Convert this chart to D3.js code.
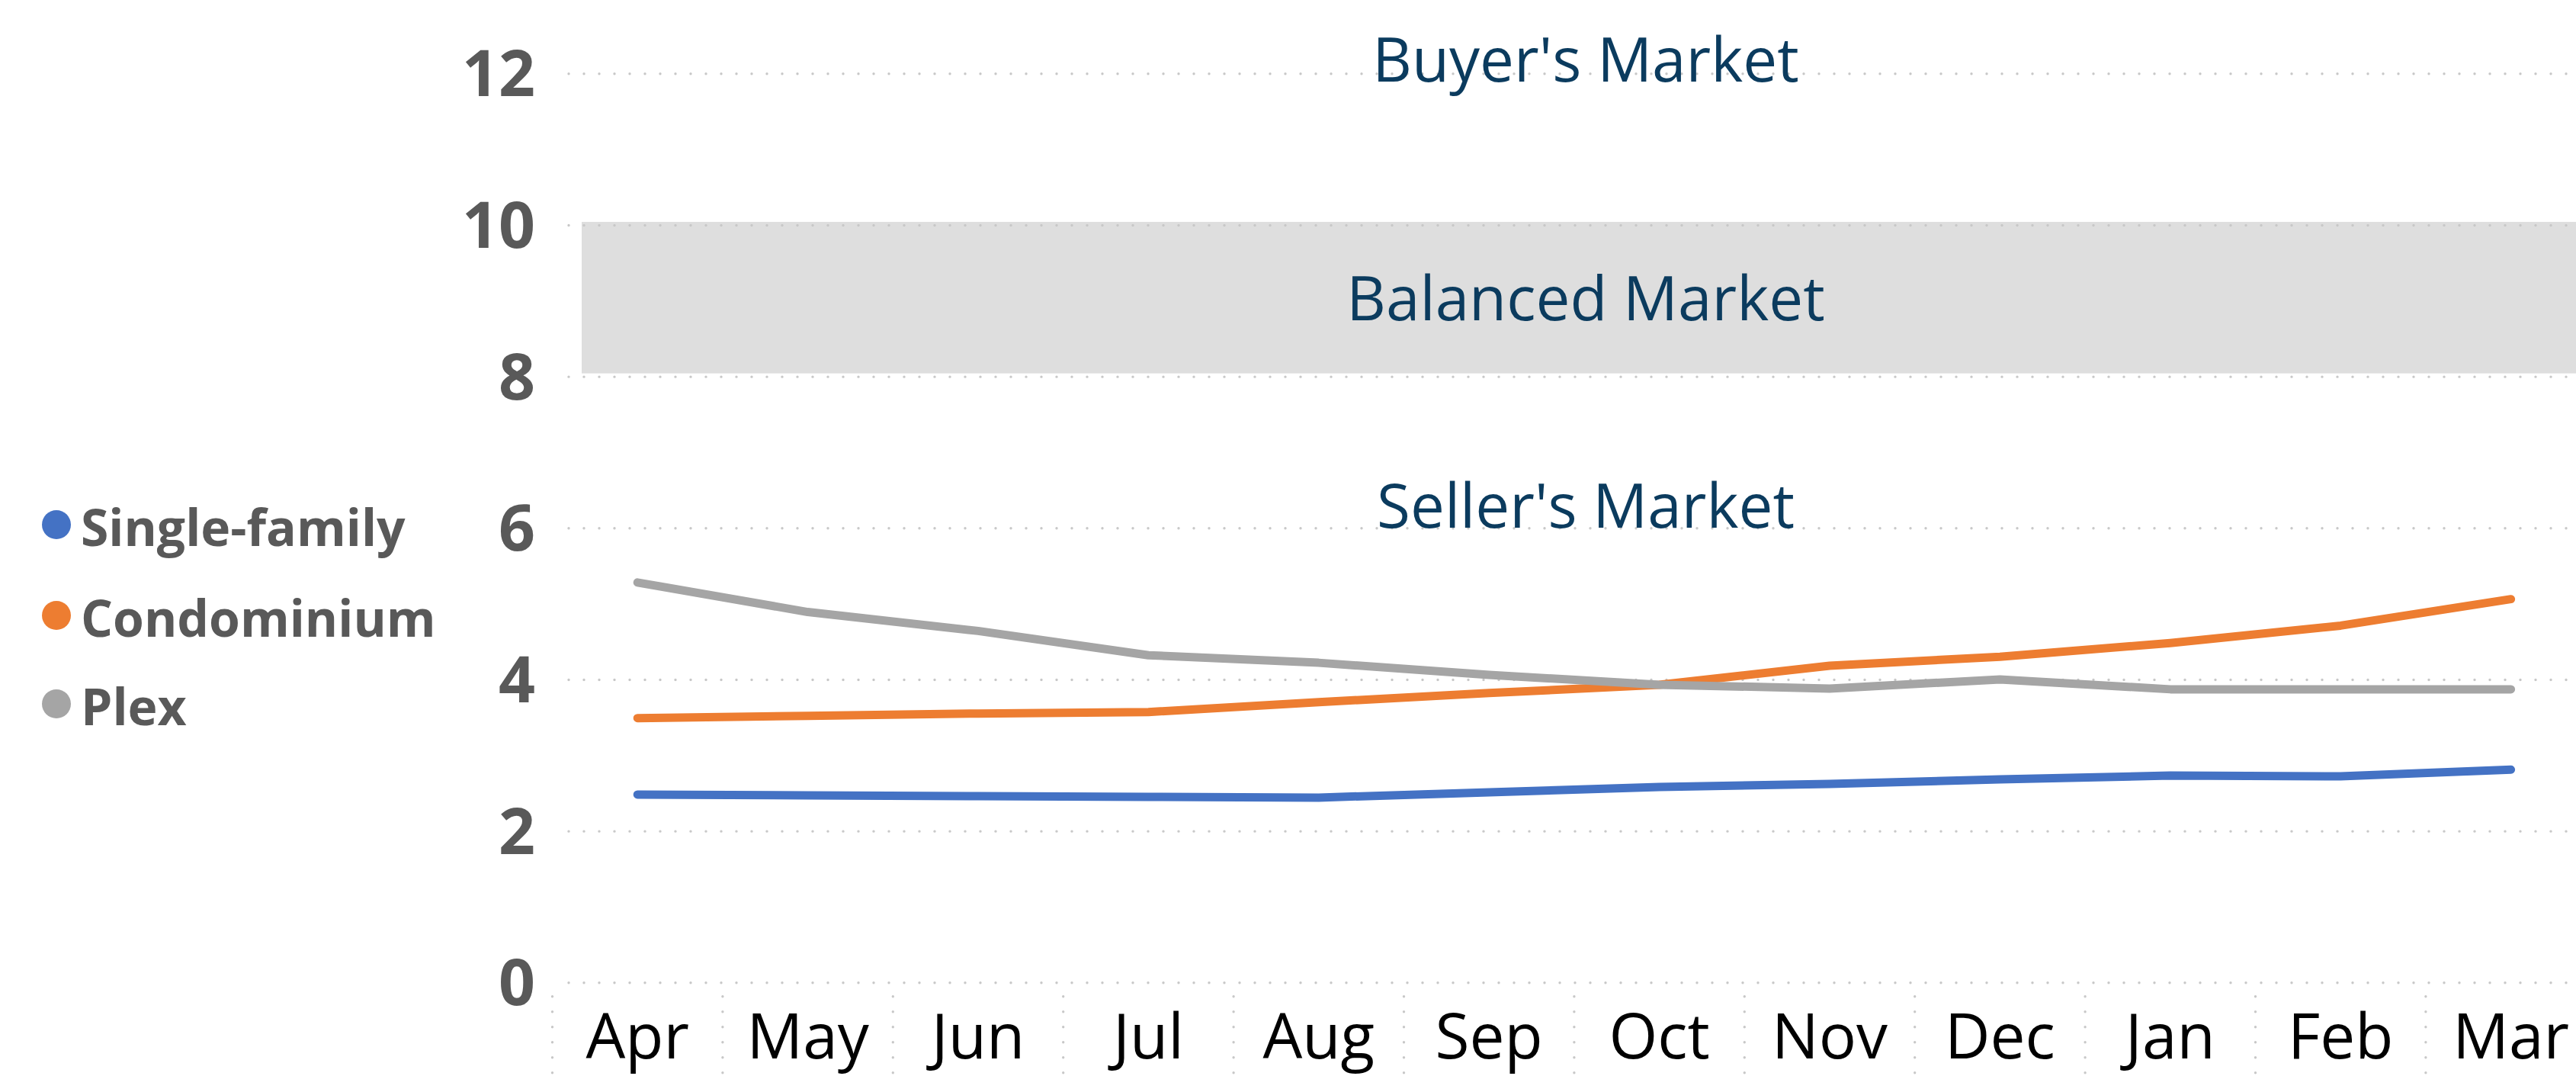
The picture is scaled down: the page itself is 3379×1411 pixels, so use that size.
<!DOCTYPE html>
<html>
<head>
<meta charset="utf-8">
<script src="https://cdn.jsdelivr.net/npm/d3@7"></script>
<style>
  body { margin: 0; background: #ffffff; }
  svg { display: block; }
</style>
</head>
<body>
<div id="chart"></div>
<script>
// data (months of inventory)
const months = ['Apr', 'May', 'Jun', 'Jul', 'Aug', 'Sep', 'Oct', 'Nov', 'Dec', 'Jan', 'Feb', 'Mar'];
const singleFamily = [2.48, 2.47, 2.46, 2.45, 2.44, 2.51, 2.58, 2.62, 2.68, 2.73, 2.72, 2.81];
const condominium = [3.49, 3.52, 3.55, 3.57, 3.70, 3.82, 3.93, 4.18, 4.30, 4.48, 4.71, 5.06];
const plex = [5.28, 4.89, 4.64, 4.32, 4.22, 4.06, 3.93, 3.88, 4.00, 3.87, 3.87, 3.87];
const seriesNames = ['Single-family', 'Condominium', 'Plex'];
const seriesColors = ['#4472C4', '#ED7D31', '#A5A5A5'];
const yTicks = [0, 2, 4, 6, 8, 10, 12];
const balancedZone = [8, 10];
const zoneLabels = ["Buyer's Market", 'Balanced Market', "Seller's Market"];

const WIDTH = 3379, HEIGHT = 1411;
const GRID_LEFT = 746;
const BAND_LEFT = 763;
const CAT_LEFT = 724.5, CAT_STEP = 223.4;
const FONT = "'Open Sans', 'Noto Sans', sans-serif";
const DOT_GRID = {stroke: '#c8c8c8', width: 3.4, dash: '0 20'};

const svg = d3.select('#chart').append('svg')
  .attr('width', WIDTH)
  .attr('height', HEIGHT);

const x = d3.scaleBand()
  .domain(months)
  .range([CAT_LEFT, CAT_LEFT + CAT_STEP * months.length])
  .paddingInner(0).paddingOuter(0);

const y = d3.scaleLinear()
  .domain([0, 12])
  .range([1288.3, 96.3]);

const cx = d => x(d) + x.bandwidth() / 2;

// balanced market band
svg.append('rect')
  .attr('x', BAND_LEFT)
  .attr('y', y(balancedZone[1]) - 4)
  .attr('width', WIDTH - BAND_LEFT)
  .attr('height', y(balancedZone[0]) - y(balancedZone[1]))
  .attr('fill', '#dedede');

// y grid + labels
const yAxis = d3.axisLeft(y)
  .tickValues(yTicks)
  .tickSize(-(WIDTH - GRID_LEFT))
  .tickPadding(44)
  .tickFormat(d3.format('d'));

const yg = svg.append('g')
  .attr('transform', 'translate(' + GRID_LEFT + ',0)')
  .call(yAxis);
yg.select('.domain').remove();
yg.selectAll('.tick line')
  .attr('stroke', DOT_GRID.stroke)
  .attr('stroke-width', DOT_GRID.width)
  .attr('stroke-linecap', 'round')
  .attr('stroke-dasharray', DOT_GRID.dash);
yg.selectAll('.tick text')
  .attr('fill', '#595959')
  .attr('dy', '0.35em')
  .style('font-family', FONT)
  .style('font-weight', 'bold')
  .style('font-size', '84px');

// x axis labels + dotted separators
const xAxis = d3.axisBottom(x).tickSize(0);
const xg = svg.append('g')
  .attr('transform', 'translate(0,' + y(0) + ')')
  .call(xAxis);
xg.select('.domain').remove();
xg.selectAll('.tick text')
  .attr('y', 100)
  .attr('dy', 0)
  .attr('fill', '#000000')
  .style('font-family', FONT)
  .style('font-size', '82px');

svg.append('g').selectAll('line')
  .data(months)
  .enter().append('line')
  .attr('x1', d => x(d))
  .attr('x2', d => x(d))
  .attr('y1', y(0) + 18.4)
  .attr('y2', HEIGHT + 5)
  .attr('stroke', DOT_GRID.stroke)
  .attr('stroke-width', DOT_GRID.width)
  .attr('stroke-linecap', 'round')
  .attr('stroke-dasharray', DOT_GRID.dash);

// zone labels
const labelX = 2080;
const zoneY = [y(12) + 11, y(9) + 26, y(6)];
svg.append('g').selectAll('text')
  .data(zoneLabels)
  .enter().append('text')
  .attr('x', labelX)
  .attr('y', (d, i) => zoneY[i])
  .attr('text-anchor', 'middle')
  .attr('fill', '#0b3b5e')
  .style('font-family', FONT)
  .style('font-size', '80px')
  .text(d => d);

// lines
const allSeries = [singleFamily, condominium, plex];
const line = d3.line()
  .x((d, i) => cx(months[i]))
  .y(d => y(d));

svg.append('g').selectAll('path')
  .data(allSeries)
  .enter().append('path')
  .attr('d', d => line(d))
  .attr('fill', 'none')
  .attr('stroke', (d, i) => seriesColors[i])
  .attr('stroke-width', 11)
  .attr('stroke-linecap', 'round')
  .attr('stroke-linejoin', 'round');

// legend
const legendBaseline = [716, 835, 951];
const legend = svg.append('g').selectAll('g')
  .data(seriesNames)
  .enter().append('g');
legend.append('circle')
  .attr('cx', 74)
  .attr('cy', (d, i) => legendBaseline[i] - 28)
  .attr('r', 19)
  .attr('fill', (d, i) => seriesColors[i]);
legend.append('text')
  .attr('x', 106)
  .attr('y', (d, i) => legendBaseline[i])
  .attr('fill', '#595959')
  .style('font-family', FONT)
  .style('font-weight', 'bold')
  .style('font-size', '66px')
  .text(d => d);
</script>
</body>
</html>
